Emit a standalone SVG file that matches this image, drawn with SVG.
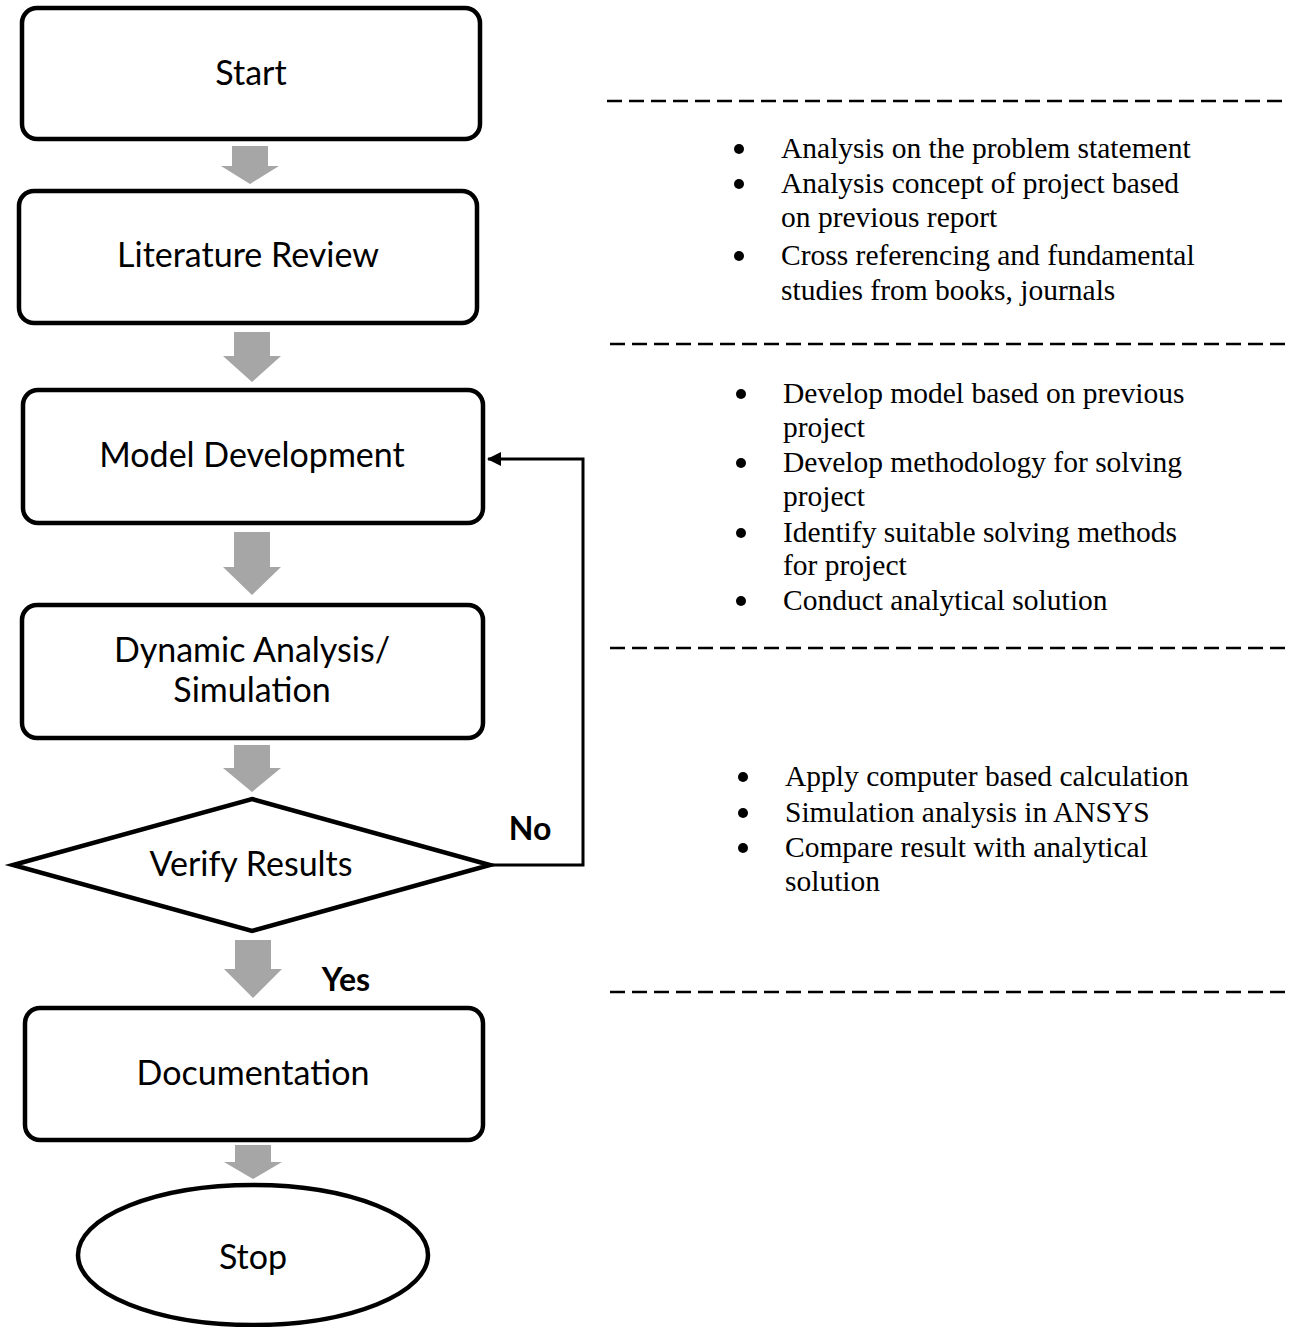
<svg xmlns="http://www.w3.org/2000/svg" width="1293" height="1327" viewBox="0 0 1293 1327">
<style>
.box{fill:#fff;stroke:#000;stroke-width:4.5}
.lbl{font-family:Lato,"Liberation Sans",sans-serif;font-size:34px;fill:#000;text-anchor:middle}
.bold{font-family:Lato,"Liberation Sans",sans-serif;font-size:32px;font-weight:bold;fill:#000;text-anchor:middle}
.flow{fill:#A6A6A6}
.dash{stroke:#000;stroke-width:2.5;stroke-dasharray:15 7;fill:none}
.note{font-family:"Liberation Serif","Times New Roman",serif;font-size:29.5px;fill:#000}
.loop{fill:none;stroke:#000;stroke-width:3}
</style>
<defs>
<marker id="ah" markerWidth="14" markerHeight="14" refX="13" refY="7" orient="auto" markerUnits="userSpaceOnUse">
<polygon points="0,0 14,7 0,14" fill="#000"/>
</marker>
</defs>
<rect width="1293" height="1327" fill="#fff"/>
<g id="connectors">
<polygon class="flow" points="232,146 268,146 268,166 279,166 250,184 221,166 232,166"/>
<polygon class="flow" points="234,332 270,332 270,356 281,356 252,382 223,356 234,356"/>
<polygon class="flow" points="234,532 270,532 270,567 281,567 252,595 223,567 234,567"/>
<polygon class="flow" points="234,745 270,745 270,768 281,768 252,792 223,768 234,768"/>
<polygon class="flow" points="235,940 271,940 271,969 282,969 253,998 224,969 235,969"/>
<polygon class="flow" points="235,1145 271,1145 271,1162 282,1162 253,1179 224,1162 235,1162"/>
<path class="loop" d="M490,865 H583 V459 H488" marker-end="url(#ah)"/>
<text class="bold" x="530" y="840">No</text>
<text class="bold" x="346" y="991">Yes</text>
</g>
<g id="start">
<rect class="box" x="22" y="8" width="458" height="131" rx="15"/>
<text class="lbl" x="251" y="85">Start</text>
</g>
<g id="literature">
<rect class="box" x="19" y="191" width="458" height="132" rx="15"/>
<text class="lbl" x="248" y="267">Literature Review</text>
</g>
<g id="model">
<rect class="box" x="23" y="390" width="460" height="133" rx="15"/>
<text class="lbl" x="252" y="467">Model Development</text>
</g>
<g id="dynamic">
<rect class="box" x="22" y="605" width="461" height="133" rx="15"/>
<text class="lbl" x="252" y="662">Dynamic Analysis/</text>
<text class="lbl" x="252" y="702">Simulation</text>
</g>
<g id="verify">
<polygon class="box" points="252,799 490,865 252,931 13,865"/>
<text class="lbl" x="251" y="876">Verify Results</text>
</g>
<g id="documentation">
<rect class="box" x="25" y="1008" width="458" height="132" rx="15"/>
<text class="lbl" x="253" y="1085">Documentation</text>
</g>
<g id="stop">
<ellipse class="box" cx="253" cy="1255" rx="175" ry="70"/>
<text class="lbl" x="253" y="1269">Stop</text>
</g>
<g id="notes">
<line class="dash" x1="607" y1="101" x2="1285" y2="101"/>
<line class="dash" x1="610" y1="344" x2="1285" y2="344"/>
<line class="dash" x1="610" y1="648" x2="1285" y2="648"/>
<line class="dash" x1="610" y1="992" x2="1285" y2="992"/>
<g id="notes-lit">
<circle cx="739" cy="149" r="5"/>
<circle cx="739" cy="184" r="5"/>
<circle cx="739" cy="256" r="5"/>
<text class="note" x="781" y="158">Analysis on the problem statement</text>
<text class="note" x="781" y="193">Analysis concept of project based</text>
<text class="note" x="781" y="227">on previous report</text>
<text class="note" x="781" y="265">Cross referencing and fundamental</text>
<text class="note" x="781" y="300">studies from books, journals</text>
</g>
<g id="notes-model">
<circle cx="741" cy="394" r="5"/>
<circle cx="741" cy="463" r="5"/>
<circle cx="741" cy="533" r="5"/>
<circle cx="741" cy="601" r="5"/>
<text class="note" x="783" y="403">Develop model based on previous</text>
<text class="note" x="783" y="437">project</text>
<text class="note" x="783" y="472">Develop methodology for solving</text>
<text class="note" x="783" y="506">project</text>
<text class="note" x="783" y="542">Identify suitable solving  methods</text>
<text class="note" x="783" y="575">for project</text>
<text class="note" x="783" y="610">Conduct analytical solution</text>
</g>
<g id="notes-sim">
<circle cx="743" cy="777" r="5"/>
<circle cx="743" cy="813" r="5"/>
<circle cx="743" cy="848" r="5"/>
<text class="note" x="785" y="786">Apply computer based calculation</text>
<text class="note" x="785" y="822">Simulation analysis in ANSYS</text>
<text class="note" x="785" y="857">Compare result with analytical</text>
<text class="note" x="785" y="891">solution</text>
</g>
</g>
</svg>
